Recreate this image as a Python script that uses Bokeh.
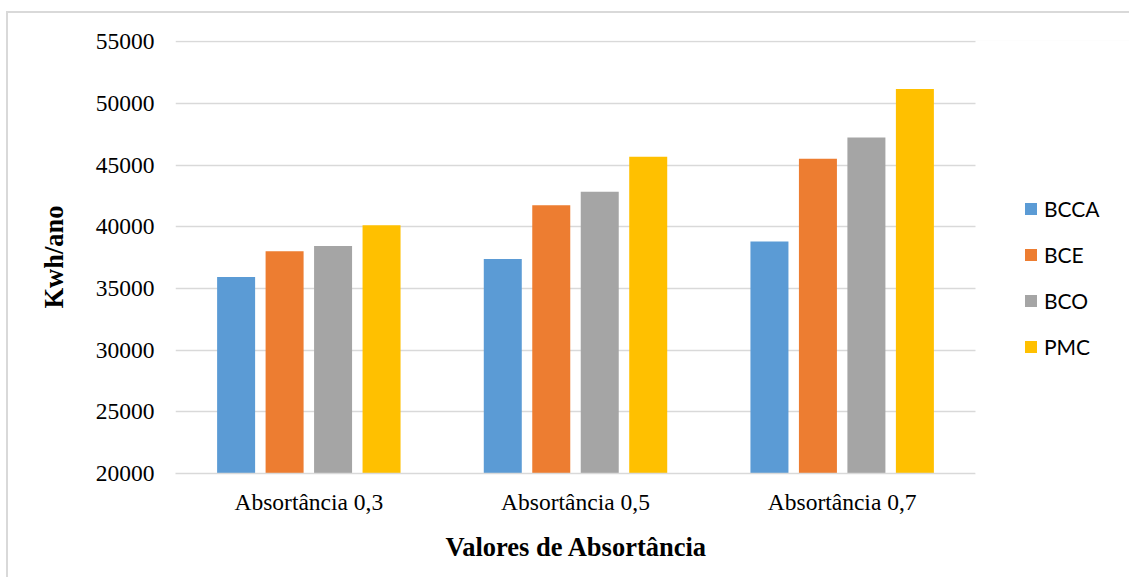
from bokeh.plotting import figure
from bokeh.models import ColumnDataSource, Legend, LegendItem, Range1d, BoxAnnotation, Title
from bokeh.transform import dodge
from bokeh.embed import file_html
from bokeh.resources import INLINE

categories = ["Absortância 0,3", "Absortância 0,5", "Absortância 0,7"]
series_names = ["BCCA", "BCE", "BCO", "PMC"]
bcca = [35940, 37400, 38810]
bce = [38020, 41750, 45520]
bco = [38450, 42840, 47250]
pmc = [40140, 45680, 51190]
colors = ["#5B9BD5", "#ED7D31", "#A5A5A5", "#FFC000"]
y_ticks = [20000, 25000, 30000, 35000, 40000, 45000, 50000, 55000]

n_cat = len(categories)
cat_pos = [i + 0.5 for i in range(n_cat)]
source = ColumnDataSource(data=dict(x=cat_pos, cat=categories, BCCA=bcca, BCE=bce, BCO=bco, PMC=pmc))

# frame: 800 px for the categories, plus 156 px of legend room to the right
cat_px, legend_px = 800, 156
x_end = n_cat * (cat_px + legend_px) / cat_px

p = figure(
    width=1123, height=566,
    x_range=Range1d(0, x_end),
    y_range=Range1d(20000, 55115),
    output_backend="svg", toolbar_location=None,
    min_border_left=167, min_border_right=0, min_border_top=27, min_border_bottom=106,
    background_fill_color="white", border_fill_color="white",
)
p.styles = {"margin-left": "6px", "margin-top": "11px",
            "border-left": "2px solid #D9D9D9", "border-top": "2px solid #D9D9D9"}
p.outline_line_color = None

offsets = [-0.2727, -0.0909, 0.0909, 0.2727]
renderers = []
for name, off, col in zip(series_names, offsets, colors):
    r = p.vbar(x=dodge("x", off), top=name, bottom=20000, width=0.1425,
               source=source, fill_color=col, line_color=None)
    renderers.append(r)

# grid
p.xgrid.grid_line_color = None
p.ygrid.grid_line_color = "#D9D9D9"
p.ygrid.grid_line_width = 1.5
p.yaxis.ticker = y_ticks

# white mask so that gridlines stop at the end of the category area
mask = BoxAnnotation(left=n_cat, top=0, top_units="canvas", bottom=2000, bottom_units="canvas",
                     fill_color="white", fill_alpha=1.0, line_color=None)
p.add_layout(mask)

# axes
font_serif = "Liberation Serif"
p.yaxis.axis_line_color = None
p.yaxis.major_tick_line_color = None
p.yaxis.minor_tick_line_color = None
p.yaxis.major_label_text_font = font_serif
p.yaxis.major_label_text_font_size = "23.5px"
p.yaxis.major_label_text_color = "#000000"
p.yaxis.major_label_standoff = 15
p.yaxis.axis_label = "Kwh/ano"
p.yaxis.axis_label_text_font = font_serif
p.yaxis.axis_label_text_font_size = "26.5px"
p.yaxis.axis_label_text_font_style = "bold"
p.yaxis.axis_label_text_color = "#000000"
p.yaxis.axis_label_standoff = 24

p.xaxis.ticker = cat_pos
p.xaxis.major_label_overrides = {pos: c for pos, c in zip(cat_pos, categories)}
p.xaxis.bounds = (0, n_cat)
p.xaxis.axis_line_color = "#D9D9D9"
p.xaxis.axis_line_width = 1.5
p.xaxis.major_tick_line_color = None
p.xaxis.minor_tick_line_color = None
p.xaxis.major_label_text_font = font_serif
p.xaxis.major_label_text_font_size = "23.5px"
p.xaxis.major_label_text_color = "#000000"
p.xaxis.major_label_standoff = 9

# x-axis title, centred on the category area (not the whole frame)
xtitle = Title(text="Valores de Absortância", align="left", offset=270,
               text_font=font_serif, text_font_size="26.5px", text_font_style="bold",
               text_color="#000000", standoff=25)
p.add_layout(xtitle, "below")

legend = Legend(
    items=[LegendItem(label=n, renderers=[r]) for n, r in zip(series_names, renderers)],
    location=(848, 114),
    orientation="vertical",
    glyph_width=15, glyph_height=15,
    label_text_font="Lato", label_text_font_size="21px", label_text_color="#000000",
    label_standoff=6, spacing=21, padding=0, margin=0,
    border_line_color=None, background_fill_alpha=0,
)
p.add_layout(legend, "center")

open("out.html", "w").write(file_html(p, INLINE))
